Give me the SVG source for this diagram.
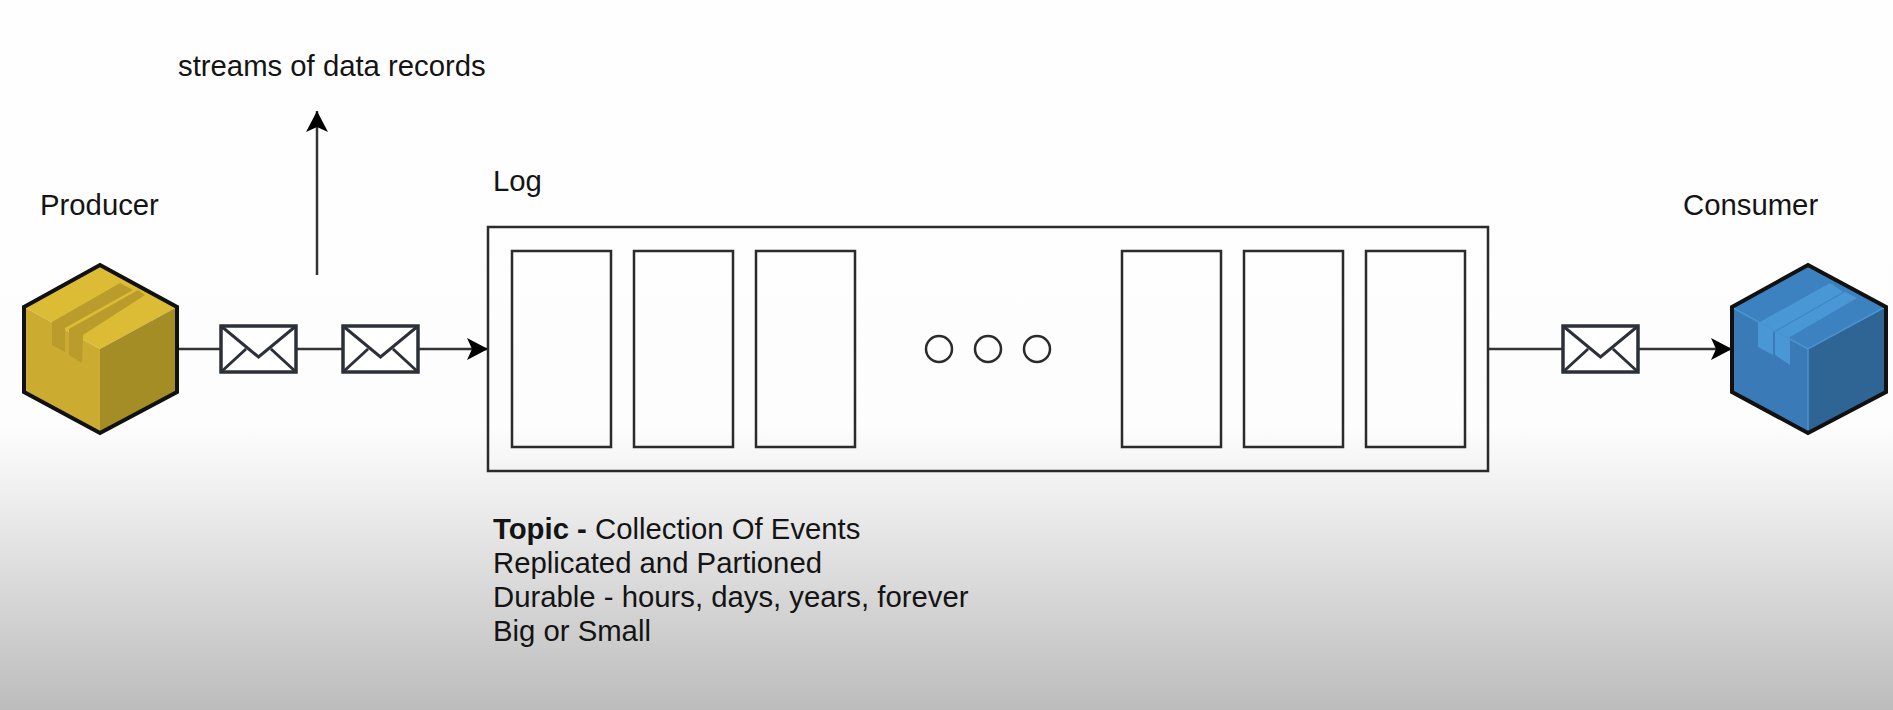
<svg xmlns="http://www.w3.org/2000/svg" width="1893" height="710" viewBox="0 0 1893 710">
  <style>
    text { font-family: "Liberation Sans", Arial, sans-serif; font-size: 29.3px; fill: #141414; }
    .b { font-weight: 700; }
    .box { fill: none; stroke: #2b2b2b; stroke-width: 2.5; }
    .conn { fill: none; stroke: #333; stroke-width: 2.5; }
    .env { fill: #fff; stroke: #2c3038; stroke-width: 3.5; }
    .envl { fill: none; stroke: #2c3038; stroke-width: 3; }
    .hex { fill: none; stroke: #111; stroke-width: 4; stroke-linejoin: miter; }
  </style>
  <defs>
    <linearGradient id="bg" x1="0" y1="0" x2="0" y2="1">
      <stop offset="0" stop-color="#fefefe"/>
      <stop offset="0.6" stop-color="#fdfdfd"/>
      <stop offset="0.7" stop-color="#eeeeee"/>
      <stop offset="1" stop-color="#bcbcbc"/>
    </linearGradient>
    <marker id="arrow" markerUnits="userSpaceOnUse" markerWidth="24" markerHeight="24" refX="21" refY="11" orient="auto">
      <path d="M0 0 L21 11 L0 22 L5 11 Z" fill="#000"/>
    </marker>
    <g id="envelope">
      <rect class="env" x="0" y="0" width="75" height="46"/>
      <path class="envl" d="M0 0 L37.5 31 L75 0 M0 46 L25 23 M75 46 L50 23"/>
    </g>
  </defs>
  <rect width="1893" height="710" fill="url(#bg)"/>

  <g id="connectors">
    <path class="conn" d="M177 349 H221"/>
    <path class="conn" d="M296 349 H343"/>
    <path class="conn" d="M419 349 H488" marker-end="url(#arrow)"/>
    <path class="conn" d="M1488 349 H1563"/>
    <path class="conn" d="M1639 349 H1732" marker-end="url(#arrow)"/>
    <path class="conn" d="M317 275 V111" marker-end="url(#arrow)"/>
  </g>

  <g id="producer">
    <path d="M24 307 L100 265 L177 307 L100 349 Z" fill="#dcbc35"/>
    <path d="M24 307 L100 349 V433 L24 392 Z" fill="#cbac30"/>
    <path d="M177 307 L100 349 V433 L177 392 Z" fill="#a58d26"/>
    <path d="M52 322 L120 283 L133 290 L65 328 V352 L52 345 Z" fill="#b99c2b"/>
    <path d="M69 329 L138 290 L145 295 L83 335 L82 363 L69 355 Z" fill="#b99c2b"/>
    <path class="hex" d="M24 307 L100 265 L177 307 V392 L100 433 L24 392 Z"/>
    <text x="40" y="215">Producer</text>
  </g>

  <g id="message-1"><use href="#envelope" x="221" y="326"/></g>
  <g id="message-2"><use href="#envelope" x="343" y="326"/></g>
  <g id="message-3"><use href="#envelope" x="1563" y="326"/></g>

  <g id="log">
    <rect class="box" x="488" y="227" width="1000" height="244"/>
    <rect class="box" x="512" y="251" width="99" height="196"/>
    <rect class="box" x="634" y="251" width="99" height="196"/>
    <rect class="box" x="756" y="251" width="99" height="196"/>
    <rect class="box" x="1122" y="251" width="99" height="196"/>
    <rect class="box" x="1244" y="251" width="99" height="196"/>
    <rect class="box" x="1366" y="251" width="99" height="196"/>
    <circle class="box" cx="939" cy="349" r="13"/>
    <circle class="box" cx="988" cy="349" r="13"/>
    <circle class="box" cx="1037" cy="349" r="13"/>
    <text x="493" y="191">Log</text>
  </g>

  <g id="consumer">
    <path d="M1732 307 L1808 265 L1886 307 L1808 349 Z" fill="#3c82c0"/>
    <path d="M1732 307 L1808 349 V433 L1732 392 Z" fill="#3a7bb7"/>
    <path d="M1886 307 L1808 349 V433 L1886 392 Z" fill="#2f6595"/>
    <path d="M1758 323 L1830 283 L1843 292 L1773 332 V355 L1758 347 Z" fill="#4a97d6"/>
    <path d="M1775 332 L1845 292 L1857 298 L1790 337 V365 L1775 355 Z" fill="#4a97d6"/>
    <path d="M1733 308 L1808 349 L1885 307 M1808 349 V432" fill="none" stroke="#4a93cf" stroke-width="1.5"/>
    <path class="hex" d="M1732 307 L1808 265 L1886 307 V392 L1808 433 L1732 392 Z"/>
    <text x="1683" y="215">Consumer</text>
  </g>

  <g id="annotation-streams">
    <text x="178" y="76">streams of data records</text>
  </g>

  <g id="annotation-topic">
    <text x="493" y="539"><tspan class="b">Topic - </tspan>Collection Of Events</text>
    <text x="493" y="573">Replicated and Partioned</text>
    <text x="493" y="607">Durable - hours, days, years, forever</text>
    <text x="493" y="641">Big or Small</text>
  </g>
</svg>
